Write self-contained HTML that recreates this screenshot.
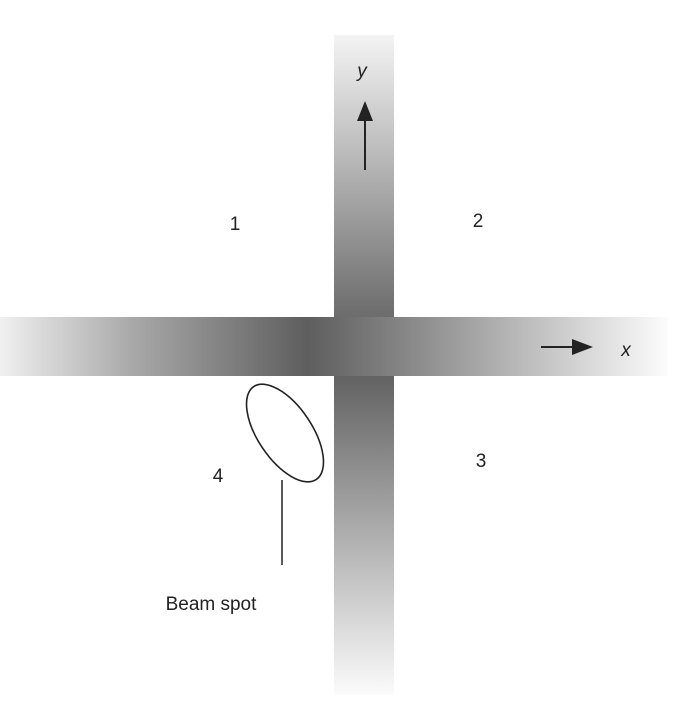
<!DOCTYPE html>
<html><head><meta charset="utf-8"><style>
body{margin:0;background:#fff;}
svg text{font-family:"Liberation Sans",sans-serif;fill:#222;}
</style></head><body>
<svg width="673" height="715" viewBox="0 0 673 715">
<defs>
<linearGradient id="gv" x1="0" y1="0" x2="0" y2="1">
<stop offset="0" stop-color="#f4f4f4"/>
<stop offset="0.42" stop-color="#6e6e6e"/>
<stop offset="0.52" stop-color="#636363"/>
<stop offset="1" stop-color="#fbfbfb"/>
</linearGradient>
<linearGradient id="gh" x1="0" y1="0" x2="1" y2="0">
<stop offset="0" stop-color="#f0f0f0"/>
<stop offset="0.2" stop-color="#a8a8a8"/>
<stop offset="0.46" stop-color="#5e5e5e"/>
<stop offset="0.62" stop-color="#8a8a8a"/>
<stop offset="1" stop-color="#fcfcfc"/>
</linearGradient>
</defs>
<rect x="334" y="35" width="60" height="660" fill="url(#gv)"/>
<rect x="0" y="317" width="668" height="59" fill="url(#gh)"/>
<g>
<line x1="365" y1="170" x2="365" y2="118" stroke="#222" stroke-width="2"/>
<polygon points="365,101 357,121 373,121" fill="#222"/>
</g>
<text x="362" y="77" font-size="19" font-style="italic" text-anchor="middle">y</text>
<g>
<line x1="541" y1="347" x2="575" y2="347" stroke="#222" stroke-width="2"/>
<polygon points="593,347 572,339 572,355" fill="#222"/>
</g>
<text x="626" y="356" font-size="19" font-style="italic" text-anchor="middle">x</text>
<text x="235" y="230" font-size="19" text-anchor="middle">1</text>
<text x="478" y="227" font-size="19" text-anchor="middle">2</text>
<text x="481" y="467" font-size="19" text-anchor="middle">3</text>
<text x="218" y="482" font-size="19" text-anchor="middle">4</text>
<ellipse cx="285" cy="433" rx="56" ry="27" transform="rotate(56 285 433)" fill="none" stroke="#222" stroke-width="1.6"/>
<line x1="282" y1="480" x2="282" y2="565" stroke="#222" stroke-width="1.5"/>
<text x="211" y="610" font-size="19" text-anchor="middle">Beam spot</text>
</svg>
</body></html>
